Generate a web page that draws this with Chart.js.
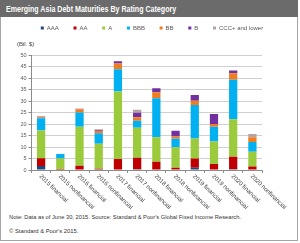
<!DOCTYPE html>
<html><head><meta charset="utf-8">
<script src="https://cdn.jsdelivr.net/npm/chart.js@4/dist/chart.umd.min.js"></script>
<style>
html,body{margin:0;padding:0;background:#fff;}
#wrap{position:relative;width:300px;height:243px;overflow:hidden;font-family:"Liberation Sans",Arial,sans-serif;}
#frame{position:absolute;left:0;top:0;width:298px;height:241px;box-sizing:border-box;border:1px solid #a6a6a6;}
#bar{position:absolute;left:0;top:0;width:298px;height:17px;background:#6b6b6b;}
#ttl{position:absolute;left:6px;top:3.5px;color:#fff;font-weight:bold;font-size:8.5px;line-height:10px;white-space:nowrap;transform-origin:0 0;}
#c{position:absolute;left:0;top:0;}
.note{position:absolute;left:9px;color:#333;font-size:6px;line-height:7px;white-space:nowrap;transform-origin:0 0;}
</style></head>
<body>
<div id="wrap">
  <div id="frame"></div>
  <div id="bar"></div>
  <div id="ttl">Emerging Asia Debt Maturities By Rating Category</div>
  <div class="note" id="n1" style="top:214px">Note: Data as of June 30, 2015. Source: Standard &amp; Poor's Global Fixed Income Research.</div>
  <div class="note" id="n2" style="top:227.5px">© Standard &amp; Poor's 2015.</div>
  <canvas id="c" width="300" height="243"></canvas>
</div>
<script>
const categories = ["2015 financial","2015 nonfinancial","2016 financial","2016 nonfinancial","2017 financial","2017 nonfinancial","2018 financial","2018 nonfinancial","2019 financial","2019 nonfinancial","2020 financial","2020 nonfinancial"];
const seriesNames = ["AAA","AA","A","BBB","BB","B","CCC+ and lower"];
const AAA = [1.7,0,0,0,0,0.3,0,0,1.0,0,0.3,0];
const AA  = [3.4,0.4,1.9,0.5,4.8,5.0,3.6,1.0,4.0,2.6,5.5,1.5];
const A   = [12.1,4.6,17.0,11.0,29.5,13.2,10.7,8.9,8.8,9.8,16.4,6.5];
const BBB = [5.4,2.0,6.2,4.5,9.7,3.0,17.0,3.7,14.6,6.5,17.2,4.2];
const BB  = [0.4,0,1.4,1.0,2.5,1.5,2.6,1.0,1.8,1.2,2.9,2.1];
const B   = [0.3,0,0.3,0.4,1.0,2.0,1.8,2.5,2.6,4.4,1.1,0];
const CCC = [0.2,0,0,0.4,0,1.3,0,0,0,0,0,1.4];
const yTicks = [0,5,10,15,20,25,30,35,40,45,50];

const colors = ["#1f497d","#c00000","#9bcb3c","#00b0f0","#f07c22","#7030a0","#b3a3a3"];
const values = [AAA,AA,A,BBB,BB,B,CCC];

function fitW(id,w){const el=document.getElementById(id);el.style.transform='scaleX('+(w/el.offsetWidth)+')';}
fitW('ttl',170); fitW('n1',232); fitW('n2',69);

const xLabelPlugin = {
  id:'xLabels',
  afterDraw(chart){
    const ctx = chart.ctx, xs = chart.scales.x, top = chart.chartArea.bottom + 5.5;
    ctx.save();
    ctx.font = '6px "Liberation Sans", Arial, sans-serif';
    ctx.fillStyle = '#404040';
    ctx.textAlign = 'left';
    ctx.textBaseline = 'middle';
    categories.forEach((lab,i)=>{
      const x = xs.getPixelForValue(i) - 1;
      ctx.save();
      ctx.translate(x, top);
      ctx.rotate(44*Math.PI/180);
      ctx.fillText(lab,0,0);
      ctx.restore();
    });
    ctx.restore();
  }
};
const boxShift = {
  id:'boxShift',
  afterLayout(chart){
    const lg=chart.legend; if(lg){lg.left+=21; lg.right+=21;}
    const tb=chart.titleBlock; if(tb){tb.left+=17; tb.right+=17;}
  }
};

new Chart(document.getElementById('c'),{
  type:'bar',
  data:{
    labels:categories,
    datasets:seriesNames.map((n,i)=>({label:n,data:values[i],backgroundColor:colors[i],borderWidth:0,barPercentage:0.43,categoryPercentage:1}))
  },
  options:{
    responsive:false,
    animation:false,
    devicePixelRatio:1,
    layout:{padding:{left:0,right:38,top:10.3,bottom:70}},
    plugins:{
      legend:{
        position:'top',
        labels:{boxWidth:3,boxHeight:3,padding:14.7,color:'#595959',font:{size:6,family:'"Liberation Sans", Arial, sans-serif'}}
      },
      title:{
        display:true,text:'(Bil. $)',align:'start',position:'top',weight:500,
        color:'#404040',font:{size:6,weight:'normal',family:'"Liberation Sans", Arial, sans-serif'},
        padding:{top:0,bottom:7.3}
      },
      tooltip:{enabled:false}
    },
    scales:{
      x:{
        stacked:true,
        ticks:{display:false},
        grid:{display:true,drawOnChartArea:false,offset:true,tickLength:3,color:'#8c8c8c'},
        border:{display:true,color:'#8c8c8c'}
      },
      y:{
        stacked:true,min:0,max:50,
        afterFit(s){s.width=31.5;},
        afterBuildTicks(s){s.ticks=yTicks.map(v=>({value:v}));},
        ticks:{padding:2,color:'#595959',font:{size:5.5,family:'"Liberation Sans", Arial, sans-serif'}},
        grid:{color:'#d0d0d0',tickLength:3,tickColor:'#8c8c8c'},
        border:{display:true,color:'#8c8c8c'}
      }
    }
  },
  plugins:[xLabelPlugin,boxShift]
});
</script>
</body></html>
